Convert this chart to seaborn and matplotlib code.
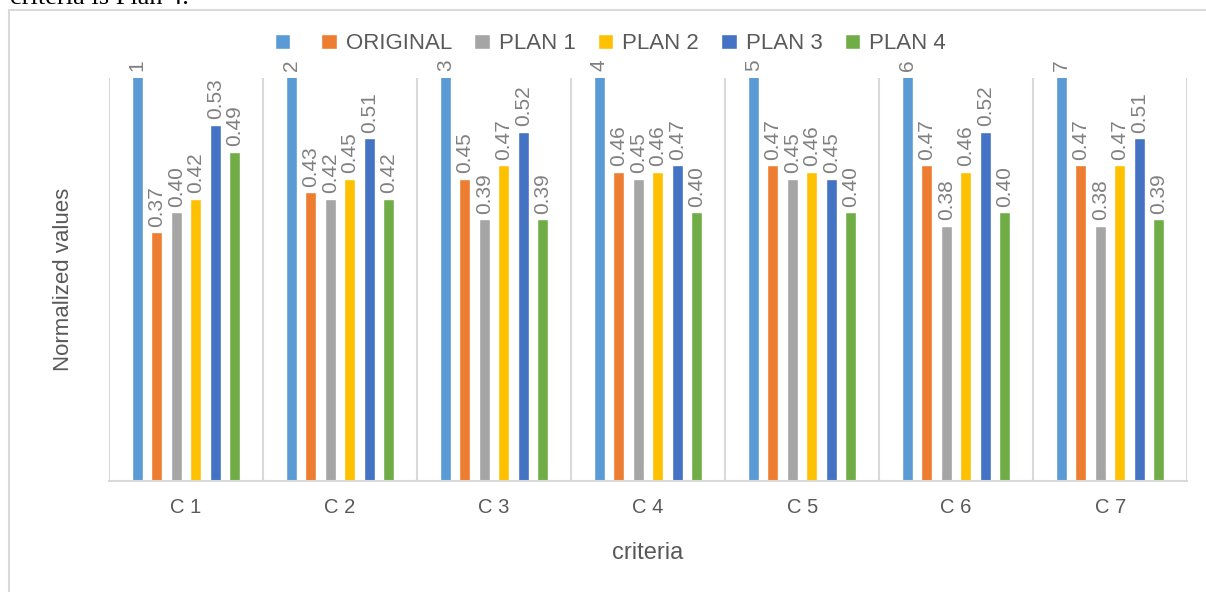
import numpy as np
import pandas as pd
import matplotlib.pyplot as plt
from matplotlib.patches import Patch, Rectangle
import seaborn as sns

# data
criteria = ["C 1", "C 2", "C 3", "C 4", "C 5", "C 6", "C 7"]
series = ["", "ORIGINAL", "PLAN 1", "PLAN 2", "PLAN 3", "PLAN 4"]
index_vals = [1, 2, 3, 4, 5, 6, 7]
original = [0.37, 0.43, 0.45, 0.46, 0.47, 0.47, 0.47]
plan1 = [0.40, 0.42, 0.39, 0.45, 0.45, 0.38, 0.38]
plan2 = [0.42, 0.45, 0.47, 0.46, 0.46, 0.46, 0.47]
plan3 = [0.53, 0.51, 0.52, 0.47, 0.45, 0.52, 0.51]
plan4 = [0.49, 0.42, 0.39, 0.40, 0.40, 0.40, 0.39]
colors = ["#5B9BD5", "#ED7D31", "#A5A5A5", "#FFC000", "#4472C4", "#70AD47"]

rows = []
for name, vals in zip(series, [index_vals, original, plan1, plan2, plan3, plan4]):
    for c, v in zip(criteria, vals):
        rows.append({"criteria": c, "series": name, "value": v})
df = pd.DataFrame(rows)

sns.set_style("white")
plt.rcParams["font.family"] = ["Liberation Sans", "DejaVu Sans"]

fig = plt.figure(figsize=(12.06, 5.92), dpi=100)
ax = fig.add_axes([0.0904, 0.1875, 0.894, 0.6807])

sns.barplot(data=df, x="criteria", y="value", hue="series", hue_order=series,
            order=criteria, palette=colors, width=0.76, gap=0.44,
            saturation=1, errorbar=None, legend=False, ax=ax)

ax.set_ylim(0, 0.6)
ax.set_xlim(-0.5, 6.5)

# data labels
grey = "#808080"
for i, cont in enumerate(ax.containers):
    if i == 0:
        for bar, v in zip(cont.patches, index_vals):
            ax.annotate(str(v), xy=(bar.get_x() + bar.get_width() / 2, 0.6),
                        xytext=(0, 5), textcoords="offset points",
                        rotation=90, ha="center", va="bottom", color=grey,
                        fontsize=15, annotation_clip=False)
    else:
        ax.bar_label(cont, fmt="%.2f", rotation=90, padding=4,
                     color=grey, fontsize=15)

# grid between categories
ax.set_xticks(np.arange(-0.5, 7, 1), minor=True)
ax.grid(which="minor", axis="x", color="#d9d9d9", lw=1.5)
ax.tick_params(axis="x", which="both", length=0, pad=12, labelsize=14.5,
               labelcolor="#595959")
ax.set_yticks([])
for s in ["left", "right", "top"]:
    ax.spines[s].set_visible(False)
ax.spines["bottom"].set_color("#d9d9d9")
ax.spines["bottom"].set_linewidth(1.5)

ax.set_xlabel("criteria", fontsize=17, color="#595959", labelpad=18)
ax.set_ylabel("Normalized values", fontsize=16, color="#595959", labelpad=25)

handles = [Patch(facecolor=c) for c in colors]
fig.legend(handles, series, loc="center", bbox_to_anchor=(0.506, 0.926),
           ncol=6, frameon=False, fontsize=16, handlelength=0.7,
           handleheight=0.7, handletextpad=0.4, columnspacing=1.0,
           labelcolor="#595959")

# chart frame and cut-off document text
fig.patches.append(Rectangle((9 / 1206, -0.1), 1.2, 1.1 - 9.5 / 592,
                             transform=fig.transFigure, fill=False,
                             ec="#d9d9d9", lw=1.5))
fig.text(10 / 1206, 1 - 4 / 592, "criteria is Plan 4.", family="Liberation Serif",
         fontsize=19, va="baseline", ha="left", color="black")

fig.savefig("out.png", dpi=100)
